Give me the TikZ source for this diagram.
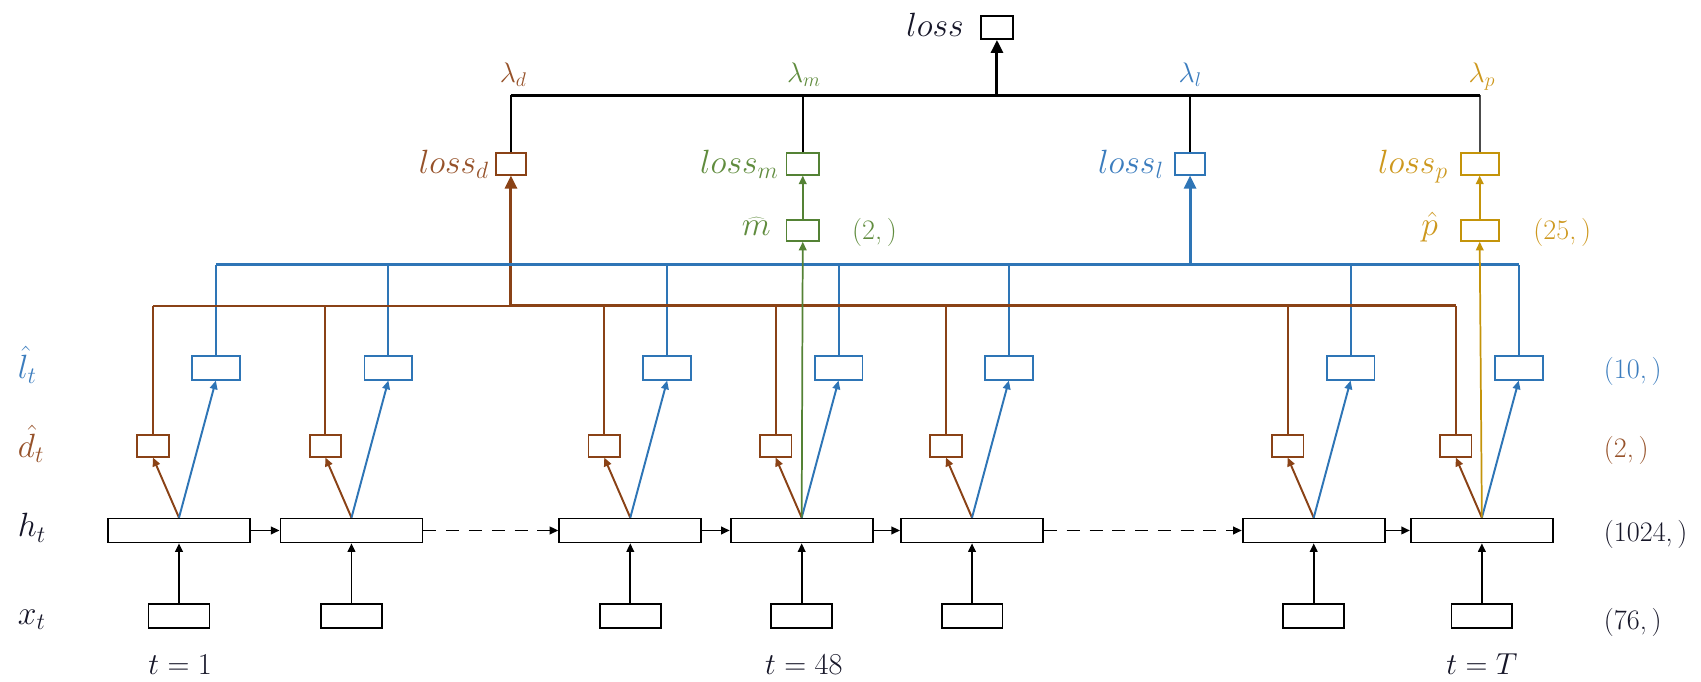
\RequirePackage{fix-cm}
\documentclass[tikz,border=0pt]{standalone}
\usetikzlibrary{arrows.meta}
\definecolor{cbrown}{RGB}{138,66,22}
\definecolor{cblue}{RGB}{46,117,182}
\definecolor{cgreen}{RGB}{84,130,53}
\definecolor{cgold}{RGB}{196,148,10}
\definecolor{tbrown}{RGB}{150,82,42}
\definecolor{tblue}{RGB}{60,125,190}
\definecolor{tgreen}{RGB}{96,140,62}
\definecolor{tgold}{RGB}{205,152,30}
\definecolor{ink}{RGB}{22,22,40}
\begin{document}
\begin{tikzpicture}[x=1pt,y=-1pt,
  box/.style={draw, line width=1.6pt, inner sep=0pt, fill=white},
  hbox/.style={box, minimum width=131pt, minimum height=22pt},
  xbox/.style={box, minimum width=56pt, minimum height=22pt},
  dbox/.style={box, draw=cbrown, minimum width=29pt, minimum height=20pt},
  lbox/.style={box, draw=cblue, minimum width=44pt, minimum height=22pt},
  sbox/.style={box, minimum width=28pt, minimum height=20pt},
  arr/.style={line width=1.8pt, -{Triangle[length=8pt,width=7pt]}},
  bigarr/.style={line width=2.8pt, -{Triangle[length=12pt,width=11pt]}},
  bus/.style={line width=1.9pt},
  bigfont/.style={font=\fontsize{31}{36}\selectfont},
  lamfont/.style={font=\fontsize{26}{30}\selectfont},
  dimfont/.style={font=\fontsize{26}{30}\selectfont},
  timefont/.style={font=\fontsize{28}{32}\selectfont},
]
\useasboundingbox (0,0) rectangle (1568,628);

% bus heights
\coordinate (bb) at (0,282);   % brown bus
\coordinate (lb) at (0,244);   % blue bus
\coordinate (kb) at (0,88);    % black bus

% time steps: input, hidden state and the two per-step heads
\foreach \i/\xx in {1/165,2/324,3/581,4/739,5/896,6/1211,7/1366} {
  \node[hbox] (h\i) at (\xx,489) {};
  \node[xbox] (x\i) at (\xx,568) {};
  \node[dbox] (d\i) at (\xx-24,411) {};
  \node[lbox] (l\i) at (\xx+34,339) {};
}

% sequence-level heads and losses
\node[sbox, draw=cbrown] (lossd) at (471,151) {};
\node[sbox, draw=cgreen, minimum width=30pt] (lossm) at (740,151) {};
\node[sbox, draw=cgreen, minimum width=30pt, minimum height=19pt] (mhat) at (740,212.5) {};
\node[sbox, draw=cblue] (lossl) at (1097,151) {};
\node[sbox, draw=cgold, minimum width=35pt] (lossp) at (1364,151) {};
\node[sbox, draw=cgold, minimum width=35pt, minimum height=19pt] (phat) at (1364,212.5) {};
\node[sbox, minimum width=29pt, minimum height=21pt] (loss) at (919,25.5) {};

% recurrent chain
\draw[arr] (h1.east) -- (h2.west);
\draw[arr, dash pattern=on 12pt off 9pt] (h2.east) -- (h3.west);
\draw[arr] (h3.east) -- (h4.west);
\draw[arr] (h4.east) -- (h5.west);
\draw[arr, dash pattern=on 12pt off 9pt] (h5.east) -- (h6.west);
\draw[arr] (h6.east) -- (h7.west);

% per-step connections
\foreach \i in {1,...,7} {
  \draw[arr] (x\i.north) -- (h\i.south);
  \draw[arr, cbrown] (h\i.north) -- (d\i.south);
  \draw[arr, cblue] (h\i.north) -- (l\i.south);
  \draw[bus, cbrown] (d\i.north) -- (d\i.north |- bb);
  \draw[bus, cblue] (l\i.north) -- (l\i.north |- lb);
}

% brown bus into loss_d
\draw[bus, cbrown] (d1.north |- bb) -- (lossd.south |- bb);
\draw[cbrown, line width=2.8pt] (lossd.south |- bb) -- (d7.north |- bb);
\draw[bigarr, cbrown] (lossd.south |- bb) -- (lossd.south);

% blue bus into loss_l
\draw[cblue, line width=2.4pt] (l1.north |- lb) -- (l7.north |- lb);
\draw[bigarr, cblue] (lossl.south |- lb) -- (lossl.south);

% green and gold paths from the hidden states
\draw[arr, cgreen, line width=1.6pt] (h4.north) -- (mhat.south);
\draw[arr, cgreen, line width=2pt] (mhat.north) -- (lossm.south);
\draw[arr, cgold, line width=1.6pt] (h7.north) -- (phat.south);
\draw[arr, cgold, line width=2pt] (phat.north) -- (lossp.south);

% weighted sum of the losses
\draw[line width=2pt] (lossd.north) -- (lossd.north |- kb);
\draw[line width=2pt] (lossm.north) -- (lossm.north |- kb);
\draw[line width=2pt] (lossl.north) -- (lossl.north |- kb);
\draw[line width=2pt, black!70] (lossp.north) -- (lossp.north |- kb);
\draw[line width=2.6pt] (lossd.north |- kb) -- (lossp.north |- kb);
\draw[bigarr] (loss.south |- kb) -- (loss.south);

% labels of the losses and weights
\node[bigfont, text=ink, anchor=base east] (tloss) at (892,34) {$loss$};
\node[bigfont, text=tbrown, anchor=base east] (tlossd) at (454,160) {$loss_d$};
\node[bigfont, text=tgreen, anchor=base east] (tlossm) at (721,160) {$loss_m$};
\node[bigfont, text=tblue, anchor=base east] (tlossl) at (1076,160) {$loss_l$};
\node[bigfont, text=tgold, anchor=base east] (tlossp) at (1338,160) {$loss_p$};
\node[bigfont, text=tgreen, anchor=base east] (tmhat) at (714,217) {$\widehat{m}$};
\node[bigfont, text=tgold, anchor=base east] (tphat) at (1329,217) {$\hat{p}$};
\node[dimfont, text=tgreen, anchor=base west] (dm) at (782,221) {(2,\,)};
\node[dimfont, text=tgold, anchor=base west] (dp) at (1410,221) {(25,\,)};

\node[lamfont, text=tbrown, anchor=base] (lamd) at (473,76) {$\lambda_d$};
\node[lamfont, text=tgreen, anchor=base] (lamm) at (741,76) {$\lambda_m$};
\node[lamfont, text=tblue, anchor=base] (laml) at (1097,76) {$\lambda_l$};
\node[lamfont, text=tgold, anchor=base] (lamp) at (1366,76) {$\lambda_p$};

% row labels
\node[bigfont, text=tblue, anchor=base west] (rl) at (13,349) {$\hat{l}_t$};
\node[bigfont, text=tbrown, anchor=base west] (rd) at (13,422) {$\hat{d}_t$};
\node[bigfont, text=ink, anchor=base west] (rh) at (13,495) {$h_t$};
\node[bigfont, text=ink, anchor=base west] (rx) at (13,576) {$x_t$};

% output sizes
\node[dimfont, text=tblue, anchor=base west] (sl) at (1475,349) {(10,\,)};
\node[dimfont, text=tbrown, anchor=base west] (sd) at (1475,422) {(2,\,)};
\node[dimfont, text=ink, anchor=base west] (sh) at (1475,499) {(1024,\,)};
\node[dimfont, text=ink, anchor=base west] (sx) at (1475,580) {(76,\,)};

% time indices
\node[timefont, text=ink, anchor=base] (t1) at (166,622) {$t = 1$};
\node[timefont, text=ink, anchor=base] (t48) at (741,622) {$t = 48$};
\node[timefont, text=ink, anchor=base] (tT) at (1366,622) {$t = T$};
\end{tikzpicture}
\end{document}
